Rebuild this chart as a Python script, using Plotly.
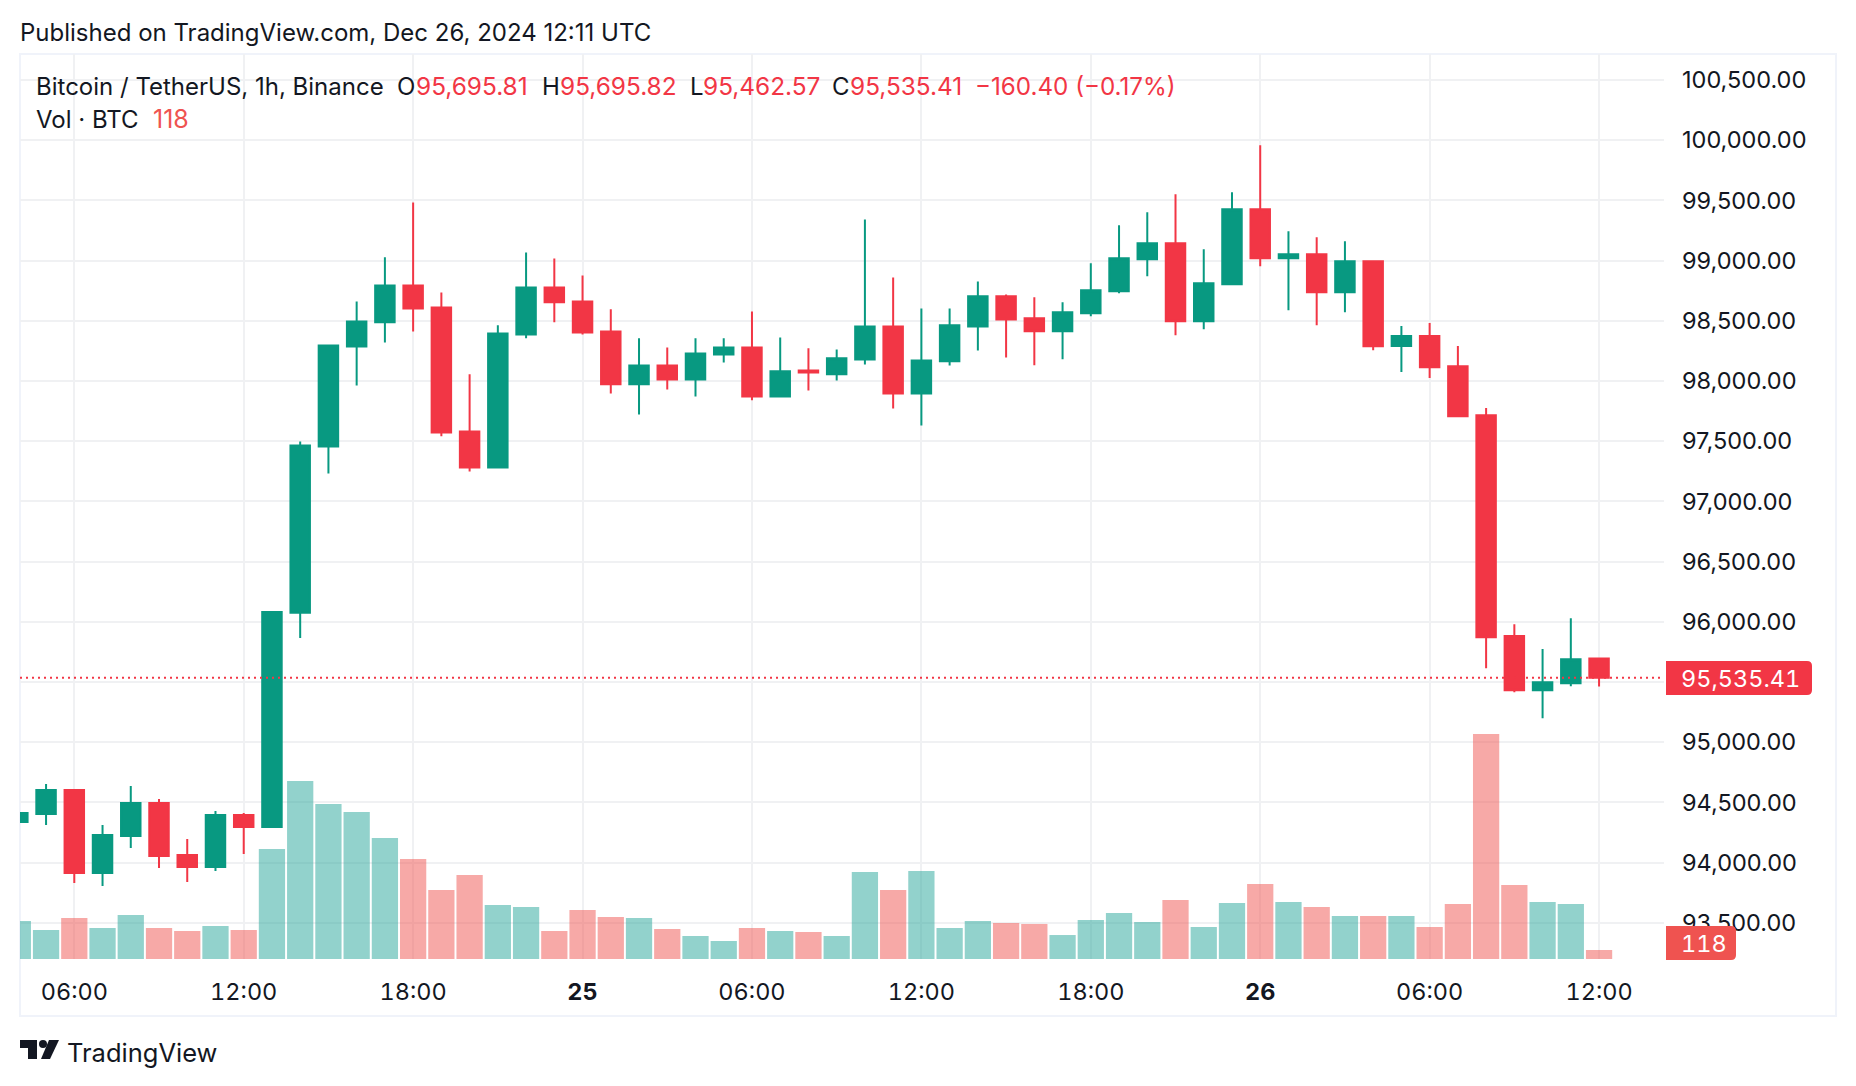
import pandas as pd
import plotly.graph_objects as go

W, H = 1856, 1086
FONT = "Inter"
INK = "#131722"
GREEN = "#089981"
RED = "#F23645"
VOL_GREEN = "rgba(38,166,154,0.5)"
VOL_RED = "rgba(239,83,80,0.5)"
GRID = "#f0f1f3"
FRAME = "#f0f3fa"

# --- hourly candles, Dec 24 04:00 -> Dec 26 12:00 UTC ---
times = pd.date_range("2024-12-24 04:00", periods=57, freq="h")

opens = [94337, 94404, 94603, 93914, 94221, 94495, 94063, 93964, 94396, 94296,
         96076, 97456, 98287, 98487, 98794, 98611, 97581, 97282, 98387, 98777,
         98661, 98412, 97972, 98129, 98013, 98221, 98279, 97872, 98088, 98055,
         98179, 98453, 97897, 98163, 98453, 98704, 98521, 98413, 98563, 98746,
         99011, 99144, 98496, 98804, 99427, 99020, 99053, 98737, 98995, 98290,
         98373, 98123, 97716, 95881, 95432, 95490, 95695.81]
highs = [94412, 94653, 94603, 94313, 94636, 94528, 94196, 94429, 94412, 96090,
         97498, 98295, 98661, 99027, 99483, 98736, 98055, 98462, 99068, 99018,
         98877, 98595, 98354, 98279, 98354, 98354, 98578, 98362, 98271, 98262,
         99342, 98860, 98603, 98603, 98827, 98719, 98696, 98654, 98978, 99294,
         99402, 99551, 99095, 99568, 99958, 99244, 99194, 99161, 98995, 98456,
         98481, 98290, 97775, 95980, 95773, 96030, 95695.82]
lows = [94337, 94313, 93831, 93806, 94121, 93955, 93839, 93930, 94072, 94288,
        95866, 97232, 97963, 98320, 98412, 97540, 97249, 97274, 98354, 98487,
        98387, 97897, 97722, 97930, 97872, 98154, 97839, 97872, 97922, 98005,
        98138, 97772, 97631, 98129, 98254, 98196, 98131, 98181, 98538, 98729,
        98870, 98380, 98430, 98804, 98953, 98588, 98463, 98571, 98256, 98074,
        98024, 97708, 95615, 95415, 95199, 95465, 95462.57]
closes = [94412, 94603, 93914, 94229, 94495, 94055, 93964, 94396, 94296, 96082,
          97465, 98295, 98495, 98794, 98603, 97573, 97282, 98395, 98777, 98653,
          98403, 97972, 98129, 98013, 98229, 98279, 97872, 98080, 98071, 98188,
          98453, 97897, 98171, 98462, 98703, 98511, 98413, 98571, 98754, 99020,
          99144, 98496, 98812, 99427, 99020, 99053, 98737, 98995, 98289, 98373,
          98115, 97708, 95872, 95432, 95498, 95689, 95535.41]
volumes = [498, 380, 537, 406, 576, 406, 367, 432, 380, 1441,
           2332, 2030, 1926, 1585, 1310, 904, 1100, 707, 681, 367,
           642, 550, 537, 393, 301, 236, 406, 367, 354, 301,
           1140, 904, 1153, 406, 498, 472, 459, 314, 511, 603,
           485, 773, 419, 734, 983, 747, 681, 563, 563, 563,
           419, 721, 2948, 969, 747, 721, 118]

price_ticks = [93500, 94000, 94500, 95000, 95500, 96000, 96500, 97000, 97500,
               98000, 98500, 99000, 99500, 100000, 100500]
# 95,500 sits behind the last price tag, only its grid line shows
price_labels = ["93,500.00", "94,000.00", "94,500.00", "95,000.00", "", "96,000.00", "96,500.00",
                "97,000.00", "97,500.00", "98,000.00", "98,500.00", "99,000.00", "99,500.00",
                "100,000.00", "100,500.00"]
time_ticks = ["2024-12-24 06:00", "2024-12-24 12:00", "2024-12-24 18:00", "2024-12-25 00:00",
              "2024-12-25 06:00", "2024-12-25 12:00", "2024-12-25 18:00", "2024-12-26 00:00",
              "2024-12-26 06:00", "2024-12-26 12:00"]
time_labels = ["06:00", "12:00", "18:00", "<b>25</b>", "06:00", "12:00", "18:00", "<b>26</b>",
               "06:00", "12:00"]

LAST_CLOSE = closes[-1]

vol_colors = [VOL_GREEN if c >= o else VOL_RED for o, c in zip(opens, closes)]


def px(x):
    return x / W


def py(y):
    return 1 - y / H


def label(x, y, text, color=INK, size=24, **extra):
    # annotations carry a small inner pad, hence the -2
    return dict(x=px(x - 2), y=py(y), xref="paper", yref="paper", text=text, showarrow=False,
                xanchor="left", yanchor="middle", font=dict(family=FONT, size=size, color=color), **extra)


def box_path(x0, y0, x1, y1, r=5):
    # flat on the left, rounded on the right, like the axis price tags
    return (f"M{px(x0)},{py(y0)} L{px(x1 - r)},{py(y0)} Q{px(x1)},{py(y0)} {px(x1)},{py(y0 + r)} "
            f"L{px(x1)},{py(y1 - r)} Q{px(x1)},{py(y1)} {px(x1 - r)},{py(y1)} L{px(x0)},{py(y1)} Z")


def poly(points):
    return "M" + " L".join(f"{px(x)},{py(y)}" for x, y in points) + " Z"


fig = go.Figure()

fig.add_trace(go.Bar(x=times, y=volumes, marker=dict(color=vol_colors, line=dict(width=0)),
                     yaxis="y", showlegend=False))
fig.add_trace(go.Candlestick(
    x=times, open=opens, high=highs, low=lows, close=closes, yaxis="y2", whiskerwidth=0,
    increasing=dict(line=dict(color=GREEN, width=2), fillcolor=GREEN),
    decreasing=dict(line=dict(color=RED, width=2), fillcolor=RED),
    showlegend=False,
))

shapes = [
    # chart frame
    dict(type="rect", xref="paper", yref="paper", x0=px(20), x1=px(1836), y0=py(54), y1=py(1016),
         line=dict(color=FRAME, width=2), layer="below"),
    # last price line
    dict(type="line", xref="paper", yref="y2", x0=px(20), x1=px(1664), y0=LAST_CLOSE, y1=LAST_CLOSE,
         line=dict(color=RED, width=2, dash="2px,4px"), layer="above"),
    # axis tags
    dict(type="path", xref="paper", yref="paper", path=box_path(1666, 661, 1812, 695),
         fillcolor=RED, line=dict(width=0), layer="above"),
    dict(type="path", xref="paper", yref="paper", path=box_path(1666, 926, 1736, 960),
         fillcolor="#ef5350", line=dict(width=0), layer="above"),
    # TradingView mark
    dict(type="path", xref="paper", yref="paper",
         path=poly([(20, 1040), (37, 1040), (37, 1059), (28, 1059), (28, 1048), (20, 1048)]),
         fillcolor=INK, line=dict(width=0), layer="above"),
    dict(type="circle", xref="paper", yref="paper", x0=px(39), x1=px(47), y0=py(1040), y1=py(1048),
         fillcolor=INK, line=dict(width=0), layer="above"),
    dict(type="path", xref="paper", yref="paper",
         path=poly([(49, 1040), (59, 1040), (50, 1059), (41, 1059)]),
         fillcolor=INK, line=dict(width=0), layer="above"),
]

annotations = [
    label(20, 32, "Published on TradingView.com, Dec 26, 2024 12:11 UTC"),
    label(36, 86, "Bitcoin / TetherUS, 1h, Binance"),
    label(397, 86, "O"),
    label(416, 86, "95,695.81", RED, 24.4),
    label(542, 86, "H"),
    label(560, 86, "95,695.82", RED, 24.4),
    label(690, 86, "L"),
    label(703, 86, "95,462.57", RED, 24.4),
    label(832, 86, "C"),
    label(850, 86, "95,535.41", RED, 24.4),
    label(975, 86, "−160.40 (−0.17%)", RED, 24.2),
    label(36, 119, "Vol · BTC"),
    label(153, 119, "118", "#ef5350", 25),
    # the two axis tags get tabular digits below, so their boxes are fixed and left aligned
    label(1681, 678, "95,535.41", "#ffffff", 23.5, width=140, align="left"),
    label(1681, 943, "118", "#ffffff", 23.5, width=54, align="left"),
    label(67, 1052, "TradingView", INK, 25.5),
]

fig.update_layout(
    width=W,
    height=H,
    margin=dict(l=0, r=0, t=0, b=0),
    paper_bgcolor="white",
    plot_bgcolor="white",
    font=dict(family=FONT, color=INK),
    bargap=0.07,
    boxgap=0.31,
    boxgroupgap=0,
    showlegend=False,
    shapes=shapes,
    annotations=annotations,
    xaxis=dict(
        domain=[px(20), px(1664)],
        type="date",
        range=["2024-12-24 04:04:37", "2024-12-26 14:18:00"],
        tickmode="array",
        tickvals=time_ticks,
        ticktext=time_labels,
        tickfont=dict(family=FONT, size=23.5, color=INK),
        ticks="",
        ticklabelstandoff=16,
        showgrid=True,
        gridcolor=GRID,
        gridwidth=2,
        showline=False,
        zeroline=False,
        rangeslider=dict(visible=False),
    ),
    # volume keeps the base axis so the candles sit on top of it
    yaxis=dict(
        domain=[py(959), py(54)],
        range=[0, 11856],
        showticklabels=False,
        showgrid=False,
        zeroline=False,
        showline=False,
    ),
    yaxis2=dict(
        overlaying="y",
        side="right",
        anchor="x",
        range=[93199, 100716],
        tickmode="array",
        tickvals=price_ticks,
        ticktext=price_labels,
        tickfont=dict(family=FONT, size=23.5, color=INK),
        ticks="",
        ticklabelstandoff=17,
        showgrid=True,
        gridcolor=GRID,
        gridwidth=2,
        zeroline=False,
        showline=False,
    ),
)

# axis numbers use tabular digits in the reference, the legend line does not
post = """
document.body.style.margin = '0';
var st = document.createElement('style');
st.textContent = '.xaxislayer-above text, .yaxislayer-above text, '
    + '.annotation[data-index="13"] text, .annotation[data-index="14"] text '
    + '{font-feature-settings: "tnum" 1;}';
document.head.appendChild(st);
"""
fig.write_html("out.html", config=dict(displayModeBar=False), post_script=post)
